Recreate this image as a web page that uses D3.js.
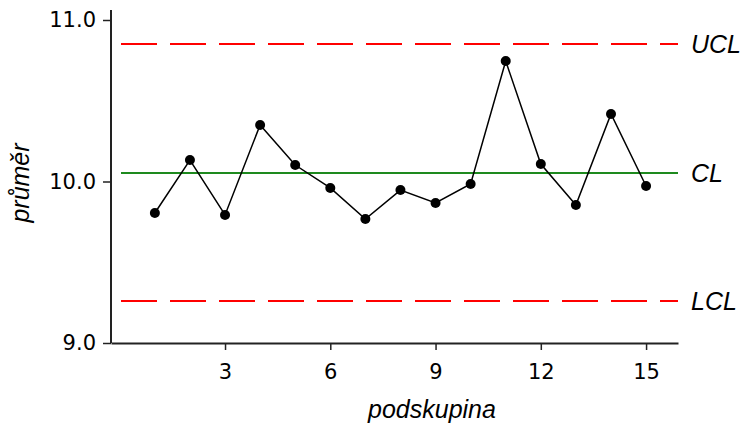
<!DOCTYPE html>
<html>
<head>
<meta charset="utf-8">
<script src="https://cdn.jsdelivr.net/npm/d3@7"></script>
<style>
  body { margin: 0; background: #fff; }
  .tick text { font-family: "DejaVu Sans", sans-serif; font-size: 21px; fill: #000; }
  .lbl { font-family: "Liberation Sans", Arial, sans-serif; font-style: italic; font-size: 25px; fill: #000; }
</style>
</head>
<body>
<div id="chart"></div>
<script>
// subgroup means
const subgroups = [1, 2, 3, 4, 5, 6, 7, 8, 9, 10, 11, 12, 13, 14, 15];
const means = [9.805, 10.133, 9.793, 10.350, 10.102, 9.960, 9.768, 9.947, 9.867, 9.985, 10.746, 10.108, 9.854, 10.418, 9.972];
const limitNames = ['UCL', 'CL', 'LCL'];
const limitValues = [10.851, 10.053, 9.260];
const xTicks = [3, 6, 9, 12, 15];
const yTicks = [9.0, 10.0, 11.0];

const width = 744, height = 425;
const margin = {left: 111, right: 66, top: 10, bottom: 82};

const svg = d3.select('#chart').append('svg')
    .attr('width', width)
    .attr('height', height);

const xScale = d3.scaleLinear()
    .domain([-0.25, 15.91])
    .range([margin.left, width - margin.right]);
const yScale = d3.scaleLinear()
    .domain([9.0, 11.0])
    .range([343, 20]);

// axes
const xAxis = d3.axisBottom(xScale).tickValues(xTicks).tickSize(7).tickPadding(14).tickSizeOuter(0);
const yAxis = d3.axisLeft(yScale).tickValues(yTicks).tickSize(8).tickPadding(7)
    .tickFormat(d3.format('.1f')).tickSizeOuter(0);

const xAxisG = svg.append('g')
    .attr('transform', `translate(0, ${yScale(9.0)})`)
    .call(xAxis);
const yAxisG = svg.append('g')
    .attr('transform', `translate(${margin.left}, 0)`)
    .call(yAxis);

// y axis runs a bit above the top tick
yAxisG.select('.domain').attr('d', `M0,${yScale(9.0)}V${margin.top}`);
[xAxisG, yAxisG].forEach(g => {
    g.select('.domain').attr('stroke', '#222').attr('stroke-width', 2);
    g.selectAll('.tick line').attr('stroke', '#222').attr('stroke-width', 1.5);
});

// control limits
const lineX0 = 121, lineX1 = xScale.range()[1];
limitNames.forEach((name, i) => {
    const y = yScale(limitValues[i]);
    svg.append('line')
        .attr('x1', lineX0).attr('x2', lineX1)
        .attr('y1', y).attr('y2', y)
        .attr('stroke', name === 'CL' ? '#1e8a1e' : '#ff0000')
        .attr('stroke-width', 2)
        .attr('stroke-dasharray', name === 'CL' ? null : '36 13');
    svg.append('text')
        .attr('class', 'lbl')
        .attr('x', 691)
        .attr('y', y)
        .attr('dy', '0.36em')
        .text(name);
});

// data line + points
const line = d3.line()
    .x((d, i) => xScale(subgroups[i]))
    .y(d => yScale(d));

svg.append('path')
    .datum(means)
    .attr('d', line)
    .attr('fill', 'none')
    .attr('stroke', '#000')
    .attr('stroke-width', 1.5);

svg.selectAll('.pt')
    .data(means)
    .enter()
    .append('circle')
    .attr('class', 'pt')
    .attr('cx', (d, i) => xScale(subgroups[i]))
    .attr('cy', d => yScale(d))
    .attr('r', 5)
    .attr('fill', '#000');

// axis titles
svg.append('text')
    .attr('class', 'lbl')
    .attr('x', 432)
    .attr('y', 418)
    .attr('text-anchor', 'middle')
    .text('podskupina');

svg.append('text')
    .attr('class', 'lbl')
    .attr('transform', `translate(29, 183) rotate(-90)`)
    .attr('text-anchor', 'middle')
    .text('průměr');
</script>
</body>
</html>
